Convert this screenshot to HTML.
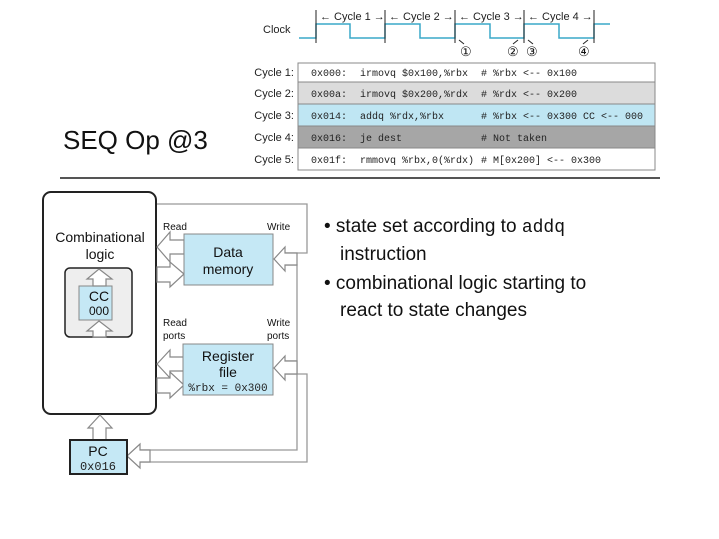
<!DOCTYPE html>
<html><head><meta charset="utf-8"><style>
html,body{margin:0;padding:0;background:#fff;width:719px;height:539px;overflow:hidden}
svg{display:block}
.s{font-family:"Liberation Sans",sans-serif}
.m{font-family:"Liberation Mono",monospace;font-size:10px;fill:#222}
.c{font-family:"Liberation Sans",sans-serif;font-size:11px;fill:#222}
</style></head><body>
<svg width="719" height="539" viewBox="0 0 719 539" xmlns="http://www.w3.org/2000/svg">
<!-- Title -->
<text x="63" y="149" class="s" font-size="26" fill="#111">SEQ Op @3</text>
<line x1="60" y1="178" x2="660" y2="178" stroke="#555" stroke-width="2"/>

<!-- Clock -->
<text x="263" y="33" class="c">Clock</text>
<polyline points="299,38 316,38 316,24 350,24 350,38 385,38 385,24 420,24 420,38 455,38 455,24 490,24 490,38 524,38 524,24 559,24 559,38 594,38 594,24 610,24" fill="none" stroke="#3aa8c8" stroke-width="1.5"/>
<g stroke="#222" stroke-width="1">
<line x1="316" y1="10" x2="316" y2="43"/><line x1="385" y1="10" x2="385" y2="43"/>
<line x1="455" y1="10" x2="455" y2="43"/><line x1="524" y1="10" x2="524" y2="43"/>
<line x1="594" y1="10" x2="594" y2="43"/>
</g>
<g class="c">
<text x="320" y="20">← Cycle 1 →</text>
<text x="389" y="20">← Cycle 2 →</text>
<text x="459" y="20">← Cycle 3 →</text>
<text x="528" y="20">← Cycle 4 →</text>
</g>
<g class="s" font-size="13" fill="#111">
<text x="460" y="56">①</text><text x="507" y="56">②</text>
<text x="526" y="56">③</text><text x="578" y="56">④</text>
</g>
<g stroke="#222" stroke-width="1">
<line x1="464" y1="44" x2="459" y2="40"/><line x1="513" y1="44" x2="518" y2="40"/>
<line x1="533" y1="44" x2="528" y2="40"/><line x1="583" y1="44" x2="588" y2="40"/>
</g>

<!-- Table -->
<rect x="298" y="63" width="357" height="19" fill="#fff" stroke="#888"/>
<rect x="298" y="82" width="357" height="22" fill="#dcdcdc" stroke="#888"/>
<rect x="298" y="104" width="357" height="22" fill="#bfe6f3" stroke="#888"/>
<rect x="298" y="126" width="357" height="22" fill="#a6a6a6" stroke="#888"/>
<rect x="298" y="148" width="357" height="22" fill="#fff" stroke="#888"/>
<g class="c" text-anchor="end">
<text x="294" y="76">Cycle 1:</text><text x="294" y="97">Cycle 2:</text>
<text x="294" y="119">Cycle 3:</text><text x="294" y="141">Cycle 4:</text>
<text x="294" y="163">Cycle 5:</text>
</g>
<g class="m">
<text x="311" y="76">0x000:</text><text x="360" y="76">irmovq $0x100,%rbx</text><text x="481" y="76"># %rbx &lt;-- 0x100</text>
<text x="311" y="97">0x00a:</text><text x="360" y="97">irmovq $0x200,%rdx</text><text x="481" y="97"># %rdx &lt;-- 0x200</text>
<text x="311" y="119">0x014:</text><text x="360" y="119">addq %rdx,%rbx</text><text x="481" y="119"># %rbx &lt;-- 0x300 CC &lt;-- 000</text>
<text x="311" y="141">0x016:</text><text x="360" y="141">je dest</text><text x="481" y="141"># Not taken</text>
<text x="311" y="163">0x01f:</text><text x="360" y="163">rmmovq %rbx,0(%rdx)</text><text x="481" y="163"># M[0x200] &lt;-- 0x300</text>
</g>

<!-- Diagram -->
<g fill="none" stroke="#999" stroke-width="1.3">
<polyline points="157,204 307,204 307,253 285,253"/>
<polyline points="285,265 297,265 297,450 140,450"/>
<polyline points="285,361 297,361"/>
<polyline points="285,374 307,374 307,462 140,462"/>
</g>
<rect x="43" y="192" width="113" height="222" rx="8" fill="#fff" stroke="#222" stroke-width="2"/>
<text x="100" y="242" class="s" font-size="14" text-anchor="middle" fill="#111">Combinational</text>
<text x="100" y="259" class="s" font-size="14" text-anchor="middle" fill="#111">logic</text>
<rect x="65" y="268" width="67" height="69" rx="5" fill="#eee" stroke="#222" stroke-width="1.5"/>
<rect x="79" y="286" width="33" height="34" fill="#c5e8f5" stroke="#888"/>
<text x="99" y="301" class="s" font-size="14" text-anchor="middle" fill="#111">CC</text>
<text x="99" y="315" class="s" font-size="12" text-anchor="middle" fill="#111">000</text>
<g fill="#fff" stroke="#888" stroke-width="1.2">
<!-- CC arrows -->
<polygon points="99,269 112,279 106,279 106,286 93,286 93,279 87,279"/>
<polygon points="99,321 112,331 106,331 106,337 93,337 93,331 87,331"/>
<!-- DM read -->
<polygon points="157,247 170,232 170,240 184,240 184,254 170,254 170,262"/>
<!-- DM in -->
<polygon points="184,274 170,262 170,267 157,267 157,282 170,282 170,287"/>
<!-- DM write -->
<polygon points="274,259 285,247 285,253 297,253 297,265 285,265 285,271"/>
<!-- RF read -->
<polygon points="157,364 170,350 170,357 184,357 184,371 170,371 170,378"/>
<!-- RF in -->
<polygon points="184,385 170,372 170,378 157,378 157,393 170,393 170,398"/>
<!-- RF write -->
<polygon points="274,368 285,356 285,361 297,361 297,374 285,374 285,380"/>
<!-- PC in -->
<polygon points="127,456 140,444 140,450 150,450 150,462 140,462 140,468"/>
<!-- PC up -->
<polygon points="100,415 112,428 106,428 106,440 93,440 93,428 88,428"/>
</g>
<rect x="184" y="234" width="89" height="51" fill="#c5e8f5" stroke="#888"/>
<text x="228" y="257" class="s" font-size="14" text-anchor="middle" fill="#111">Data</text>
<text x="228" y="274" class="s" font-size="14" text-anchor="middle" fill="#111">memory</text>
<text x="163" y="230" class="s" font-size="10" fill="#111">Read</text>
<text x="267" y="230" class="s" font-size="10" fill="#111">Write</text>
<text x="163" y="326" class="s" font-size="10" fill="#111">Read</text>
<text x="163" y="339" class="s" font-size="10" fill="#111">ports</text>
<text x="267" y="326" class="s" font-size="10" fill="#111">Write</text>
<text x="267" y="339" class="s" font-size="10" fill="#111">ports</text>
<rect x="183" y="344" width="90" height="51" fill="#c5e8f5" stroke="#888"/>
<text x="228" y="361" class="s" font-size="14" text-anchor="middle" fill="#111">Register</text>
<text x="228" y="377" class="s" font-size="14" text-anchor="middle" fill="#111">file</text>
<text x="228" y="391" class="m" font-size="11" text-anchor="middle" style="font-size:11px">%rbx = 0x300</text>
<rect x="70" y="440" width="57" height="34" fill="#c5e8f5" stroke="#222" stroke-width="2"/>
<text x="98" y="456" class="s" font-size="14" text-anchor="middle" fill="#111">PC</text>
<text x="98" y="470" class="m" text-anchor="middle" style="font-size:12px">0x016</text>

<!-- Bullets -->
<g class="s" font-size="19" fill="#111">
<text x="324" y="232">• state set according to <tspan font-family="Liberation Mono, monospace" font-size="18">addq</tspan></text>
<text x="340" y="260">instruction</text>
<text x="324" y="289">• combinational logic starting to</text>
<text x="340" y="316">react to state changes</text>
</g>
</svg>
</body></html>
